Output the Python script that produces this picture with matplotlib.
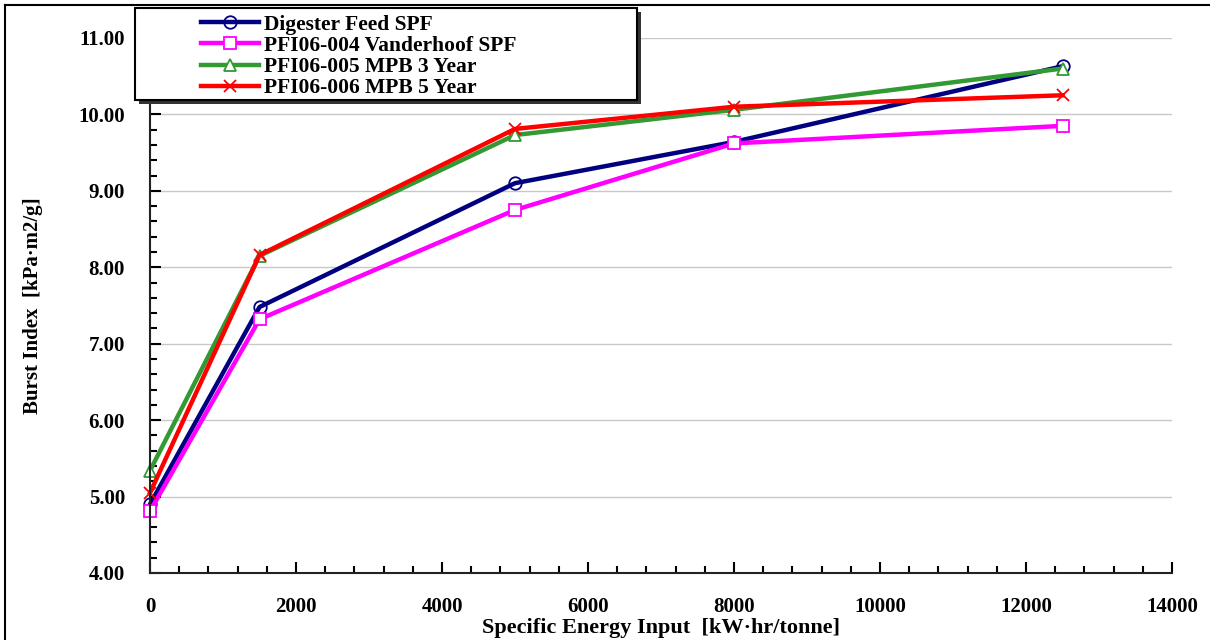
import matplotlib.pyplot as plt
from matplotlib.ticker import MultipleLocator, FormatStrFormatter
from matplotlib.patches import Rectangle
from matplotlib.lines import Line2D

plt.rcParams['font.family'] = ['Liberation Serif', 'DejaVu Serif']
plt.rcParams['font.weight'] = 'bold'

energy = [0, 1500, 5000, 8000, 12500]
digester_feed = [4.90, 7.48, 9.10, 9.64, 10.63]
vanderhoof = [4.81, 7.32, 8.75, 9.62, 9.85]
mpb_3yr = [5.34, 8.15, 9.73, 10.06, 10.60]
mpb_5yr = [5.05, 8.16, 9.81, 10.10, 10.25]

series = [
    ("Digester Feed SPF", digester_feed, '#000080', 'o', 'none'),
    ("PFI06-004 Vanderhoof SPF", vanderhoof, '#ff00ff', 's', 'white'),
    ("PFI06-005 MPB 3 Year", mpb_3yr, '#339933', '^', 'white'),
    ("PFI06-006 MPB 5 Year", mpb_5yr, '#ff0000', 'x', 'none'),
]

fig = plt.figure(figsize=(12.1, 6.4), dpi=100)
ax = fig.add_axes([0.124, 0.1047, 0.8446, 0.836])

handles = []
for name, vals, col, mk, face in series:
    ln, = ax.plot(energy, vals, color=col, lw=3.2, marker=mk, ms=9,
                  mfc=face, mec=col, mew=1.3, label=name, clip_on=False)
    handles.append(ln)

ax.set_xlim(0, 14000)
ax.set_ylim(4, 11)
ax.xaxis.set_major_locator(MultipleLocator(2000))
ax.xaxis.set_minor_locator(MultipleLocator(400))
ax.yaxis.set_major_locator(MultipleLocator(1))
ax.yaxis.set_minor_locator(MultipleLocator(0.2))
ax.yaxis.set_major_formatter(FormatStrFormatter('%.2f'))
ax.grid(axis='y', which='major', color='#c8c8c8', lw=1)
ax.set_axisbelow(True)

for s in ['top', 'right']:
    ax.spines[s].set_visible(False)
for s in ['left', 'bottom']:
    ax.spines[s].set_linewidth(1.5)
    ax.spines[s].set_color('#222222')

ax.tick_params(which='both', direction='in', width=1.5, labelsize=15)
ax.tick_params(which='major', length=8)
ax.tick_params(which='minor', length=5)
ax.tick_params(axis='x', which='major', pad=17)
ax.tick_params(axis='y', which='major', pad=18)

ax.set_xlabel("Specific Energy Input  [kW·hr/tonne]", fontsize=16,
              fontweight='bold', labelpad=0)
ax.xaxis.set_label_coords(0.5, -0.085)
ax.set_ylabel("Burst Index  [kPa·m2/g]", fontsize=15, fontweight='bold')
ax.yaxis.set_label_coords(-0.105, 0.5)

# legend box with drop shadow
shadow = Rectangle((139 / 1210, 1 - 104 / 640), 502 / 1210, 92 / 640,
                   transform=fig.transFigure, facecolor='#333333',
                   edgecolor='none', zorder=5)
box = Rectangle((135 / 1210, 1 - 100 / 640), 502 / 1210, 92 / 640,
                transform=fig.transFigure, facecolor='white',
                edgecolor='black', lw=1.5, zorder=6)
fig.add_artist(shadow)
fig.add_artist(box)
leg = fig.legend(handles=handles, loc='upper left',
                 bbox_to_anchor=(190 / 1210, 1 - 4 / 640), frameon=False,
                 fontsize=15.5, handlelength=2.7, handletextpad=0.25,
                 labelspacing=0.05, borderpad=0.0)
leg.set_zorder(7)

# page border
fig.add_artist(Line2D([5 / 1210, 5 / 1210], [0, 1 - 5 / 640],
                      transform=fig.transFigure, color='black', lw=1.5))
fig.add_artist(Line2D([5 / 1210, 1], [1 - 5 / 640, 1 - 5 / 640],
                      transform=fig.transFigure, color='black', lw=1.5))

fig.savefig('out.png', dpi=100)
